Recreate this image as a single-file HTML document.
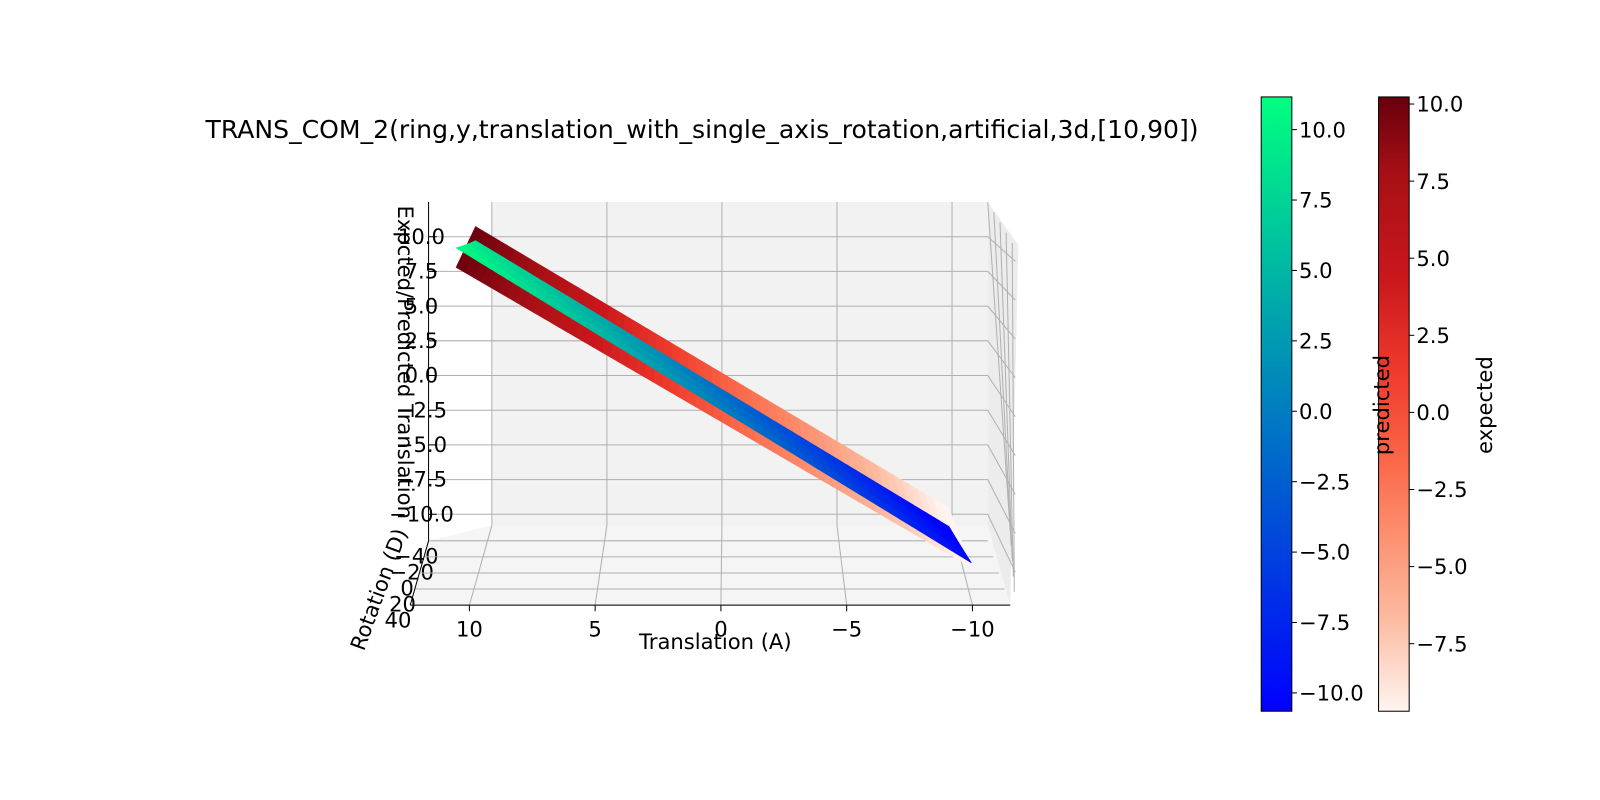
<!DOCTYPE html>
<html><head><meta charset="utf-8"><style>
html,body{margin:0;padding:0;background:#fff;}
svg{display:block;font-family:"DejaVu Sans","Liberation Sans",sans-serif;}
</style></head><body>
<svg id="chart" width="1600" height="800" viewBox="0 0 1600 800" xmlns="http://www.w3.org/2000/svg">
<defs>
<linearGradient id="gPred" x1="0" y1="0" x2="0" y2="1">
<stop offset="0" stop-color="#00ff80"/><stop offset="1" stop-color="#0000ff"/></linearGradient>
<linearGradient id="gExp" x1="0" y1="0" x2="0" y2="1">
<stop offset="0" stop-color="#67000d"/><stop offset="0.12" stop-color="#a50f15"/><stop offset="0.3" stop-color="#cb181d"/><stop offset="0.45" stop-color="#ef3b2c"/><stop offset="0.6" stop-color="#fb6a4a"/><stop offset="0.72" stop-color="#fc9272"/><stop offset="0.85" stop-color="#fcbba1"/><stop offset="1" stop-color="#fff5f0"/></linearGradient>
</defs>
<g transform="scale(1.0204)">
<text x="688" y="135" font-size="24.6" text-anchor="middle">TRANS_COM_2(ring,y,translation_with_single_axis_rotation,artificial,3d,[10,90])</text>
<g id="axes3d"></g>
<g id="surfaces"></g>
<g id="labels"></g>
<g id="cbars"></g>
<g id="cblabels"></g>
</g>
</svg>
<script>
const NS="http://www.w3.org/2000/svg";
// ---- data ----
const transTicks=[10,5,0,-5,-10];
const zTicks=[10,7.5,5,2.5,0,-2.5,-5,-7.5,-10];
const rotTicks=[-40,-20,0,20,40];
const transGrid=[10,-10];
const expectedBack=[10,-10];
const expectedFront=[10,-10];
const predictedBack=[9.0,-11.3];
const predictedFront=[11.3,-9.7];
const predTicks=[10,7.5,5,2.5,0,-2.5,-5,-7.5,-10];
const expTicks=[10,7.5,5,2.5,0,-2.5,-5,-7.5];
const FS=20.7;

function mk(tag,attrs,parent){const e=document.createElementNS(NS,tag);for(const k in attrs)e.setAttribute(k,attrs[k]);parent.appendChild(e);return e;}
function px(t,r){return (698-t*23.2)*(1-r)+(699.5-t*25.25)*r;}
function py(z,r){return (360-z*13.8)*(1-r)+(409-z*14.7)*r;}
function paneX(t){return 707.5-t*22.55;}
function frontX(t){return 706.5-t*24.65;}
function paneY(z){return 368-z*13.6;}

const ax=document.getElementById('axes3d');
let bg=mk('polygon',{points:"482,198 968,198 968,515 482,515",fill:"#f2f2f2"},ax);


let fl=mk('polygon',{points:"482,515 968,515 990,593 402,593 420,530",fill:"#f5f5f5"},ax);


let rp=mk('polygon',{points:"968,198 968,515 990,593 998,240",fill:"#ececec"},ax);


zTicks.forEach(z=>{const y=paneY(z);
 let l=mk('polyline',{points:`423,${y} 968,${y} ${995},${y+(y-198)*0.12+20}`,fill:"none",stroke:"#b0b0b0","stroke-width":1},ax);
 
 
 let tk=mk('line',{x1:420,y1:y,x2:428,y2:y,stroke:"#000"},ax);
 
 
 let tx=mk('text',{x:413,y:y+7,"font-size":FS,"text-anchor":"middle"},ax);
 tx.textContent=(z<0?"\u2212":"")+Math.abs(z).toFixed(1);
 
 
});
transTicks.forEach(t=>{const xb=paneX(t),xf=frontX(t);
 let l=mk('polyline',{points:`${xb},198 ${xb},515 ${xf},593`,fill:"none",stroke:"#b0b0b0","stroke-width":1},ax);
 
 
 let tk=mk('line',{x1:xf,y1:593,x2:xf,y2:599,stroke:"#000"},ax);
 
 
 let tx=mk('text',{x:xf,y:624,"font-size":FS,"text-anchor":"middle"},ax);
 tx.textContent=(t<0?"\u2212":"")+Math.abs(t);
 
 
});
rotTicks.forEach((r,i)=>{const f=(r+40)/80;const y=530+f*63;const xl=420-f*18;
 let l=mk('polyline',{points:`${xl},${y} ${968+f*22},${y}`,fill:"none",stroke:"#b0b0b0"},ax);
 
 
 let tx=mk('text',{x:xl-12,y:y+22,"font-size":FS,"text-anchor":"middle"},ax);
 tx.textContent=(r<0?"\u2212":"")+Math.abs(r);
 
 
});
for(let i=0;i<5;i++){let l=mk('line',{x1:968+i*6,y1:198+i*10,x2:990+i*1,y2:520+i*15,stroke:"#b0b0b0"},ax);
 
 }
let za=mk('line',{x1:420,y1:198,x2:420,y2:530,stroke:"#000"},ax);

let xa=mk('line',{x1:402,y1:593,x2:990,y2:593,stroke:"#000"},ax);

let ra=mk('line',{x1:420,y1:530,x2:402,y2:593,stroke:"#000"},ax);


function reds(v){const s=[[103,0,13],[165,15,21],[203,24,29],[239,59,44],[251,106,74],[252,146,114],[252,187,161],[255,245,240]];
 let f=Math.min(1,Math.max(0,(10.23-v)/19.92))*(s.length-1);let i=Math.min(s.length-2,Math.floor(f));let u=f-i;
 return `rgb(${s[i].map((c,k)=>Math.round(c+(s[i+1][k]-c)*u)).join(',')})`;}
function winter(v){let f=Math.min(1,Math.max(0,(v+10.65)/21.81));return `rgb(0,${Math.round(255*f)},${Math.round(255-127*f)})`;}
const sf=document.getElementById('surfaces');
function band(back,front,cmap,name){const N=60;const t0=transGrid[0],t1=transGrid[1];
 for(let i=0;i<N;i++){const a=i/N,b=(i+1)/N;
  const ta=t0+(t1-t0)*a,tb=t0+(t1-t0)*b;
  const zba=back[0]+(back[1]-back[0])*a,zbb=back[0]+(back[1]-back[0])*b;
  const zfa=front[0]+(front[1]-front[0])*a,zfb=front[0]+(front[1]-front[0])*b;
  const M=3;
  for(let j=0;j<M;j++){const r0=j/M,r1=(j+1)/M;
   const z=(a,b,r)=>a*(1-r)+b*r;
   const pts=[[px(ta,r0),py(z(zba,zfa,r0),r0)],[px(tb,r0),py(z(zbb,zfb,r0),r0)],[px(tb,r1),py(z(zbb,zfb,r1),r1)],[px(ta,r1),py(z(zba,zfa,r1),r1)]];
   const zm=(z(zba,zfa,(r0+r1)/2)+z(zbb,zfb,(r0+r1)/2))/2;
   const c=cmap(zm);
   let p=mk('polygon',{points:pts.map(q=>q.join(',')).join(' '),fill:c,stroke:c,"stroke-width":0.6},sf);
   
   
  }}
}
band(expectedBack,expectedFront,reds,'expected-surface-patch');
band(predictedBack,predictedFront,winter,'predicted-surface-patch');

const lb=document.getElementById('labels');
let zl=mk('text',{x:0,y:0,"font-size":FS,"text-anchor":"middle",transform:"translate(390,355) rotate(90)"},lb);
zl.textContent="Expcted/Predicted Translation";

let xl=mk('text',{x:701,y:636,"font-size":FS,"text-anchor":"middle"},lb);
xl.textContent="Translation (A)";

let rl=mk('text',{x:0,y:0,"font-size":FS,"text-anchor":"middle",transform:"translate(378,580) rotate(-70)"},lb);
rl.textContent="Rotation (D)";


const cb=document.getElementById('cbars');
const cbl=document.getElementById('cblabels');
function colorbar(x,grad,ticks,vTop,vBot,label,lx,name){
 let r=mk('rect',{x:x,y:95,width:30,height:602,fill:`url(#${grad})`,stroke:"#000","stroke-width":1},cb);
 
 ticks.forEach(v=>{const y=95+(vTop-v)/(vTop-vBot)*602;
  let t=mk('line',{x1:x+30,y1:y,x2:x+35,y2:y,stroke:"#000"},cb);
  
  let tx=mk('text',{x:x+37,y:y+7.5,"font-size":FS},cb);
  tx.textContent=(v<0?"\u2212":"")+Math.abs(v).toFixed(1);
  
 });
 let l=mk('text',{x:0,y:0,"font-size":FS,"text-anchor":"middle",transform:`translate(${lx},397) rotate(-90)`},cbl);
 l.textContent=label;
 
}
colorbar(1236,'gPred',predTicks,11.16,-10.65,'predicted',1361,'predicted');
colorbar(1351,'gExp',expTicks,10.23,-9.69,'expected',1462,'expected');
</script>
</body></html>
